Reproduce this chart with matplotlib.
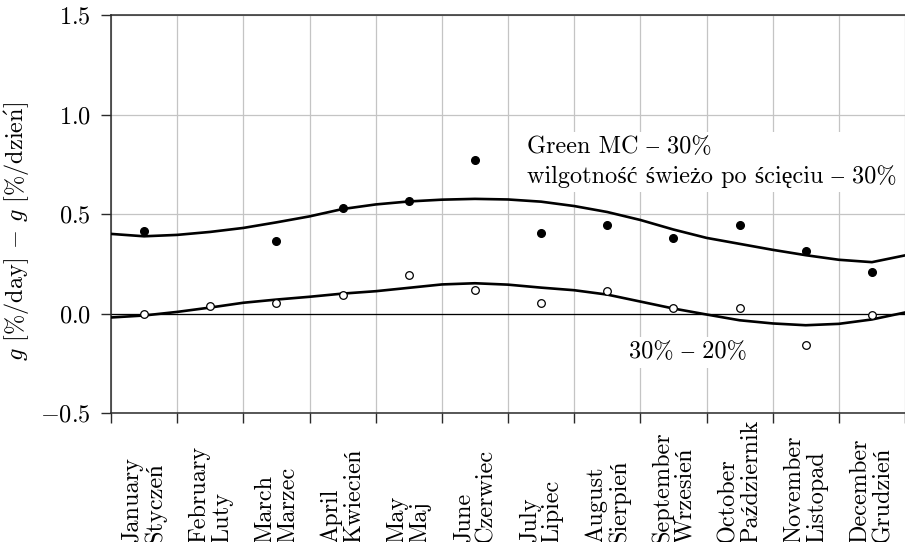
import matplotlib
matplotlib.use('Agg')
import matplotlib.pyplot as plt
import matplotlib.transforms as mtransforms
import numpy as np

plt.rcParams['font.family'] = ['cmr10', 'Liberation Serif']
plt.rcParams['mathtext.fontset'] = 'cm'
plt.rcParams['axes.formatter.use_mathtext'] = True
plt.rcParams['axes.unicode_minus'] = True

months_en = ['January', 'February', 'March', 'April', 'May', 'June', 'July',
             'August', 'September', 'October', 'November', 'December']
months_pl = ['Styczeń', 'Luty', 'Marzec', 'Kwiecień', 'Maj', 'Czerwiec', 'Lipiec',
             'Sierpień', 'Wrzesień', 'Październik', 'Listopad', 'Grudzień']

# measured monthly values (month centres)
green_pts = [0.417, np.nan, 0.362, 0.528, 0.563, 0.769, 0.407,
             0.444, 0.377, 0.447, 0.312, 0.211]
dry_pts = [-0.003, 0.040, 0.055, 0.095, 0.192, 0.119, 0.054,
           0.115, 0.030, 0.028, -0.157, -0.010]

# fitted curves, read every half month
curve_x = [0, 0.5, 1, 1.5, 2, 2.5, 3, 3.5, 4, 4.5, 5, 5.5, 6,
           6.5, 7, 7.5, 8, 8.5, 9, 9.5, 10, 10.5, 11, 11.5, 12]
green_curve = [0.400, 0.388, 0.395, 0.410, 0.430, 0.458, 0.488, 0.525, 0.548,
               0.563, 0.572, 0.576, 0.573, 0.562, 0.540, 0.510, 0.470, 0.422,
               0.380, 0.350, 0.320, 0.293, 0.270, 0.258, 0.292]
dry_curve = [-0.020, -0.010, 0.008, 0.030, 0.054, 0.070, 0.084, 0.100, 0.112,
             0.129, 0.146, 0.152, 0.145, 0.130, 0.117, 0.095, 0.060, 0.025,
             -0.005, -0.034, -0.050, -0.059, -0.052, -0.030, 0.005]

fig = plt.figure(figsize=(9.05, 5.42), dpi=100)
ax = fig.add_axes([111 / 905, 1 - 413 / 542, 1 - 111 / 905, (413 - 15) / 542])

mid = np.arange(12) + 0.5
ax.plot(curve_x, green_curve, color='black', lw=1.9, zorder=3)
ax.plot(curve_x, dry_curve, color='black', lw=1.9, zorder=3)
ax.plot(mid, green_pts, 'o', color='black', ms=5.5, zorder=4)
ax.plot(mid, dry_pts, 'o', mfc='white', mec='black', mew=0.9, ms=5.5, zorder=4)

ax.axhline(0, color='black', lw=0.9, zorder=2)

ax.set_xlim(0, 12)
ax.set_ylim(-0.5, 1.5)
ax.set_xticks(np.arange(13))
ax.set_xticklabels([])
ax.set_yticks([-0.5, 0.0, 0.5, 1.0, 1.5])
ax.grid(True, color='#c4c4c4', lw=0.9, zorder=0)
ax.set_axisbelow(True)

for s in ['left', 'bottom', 'top']:
    ax.spines[s].set_color('#2a2a2a')
    ax.spines[s].set_linewidth(1.1)
ax.spines['right'].set_visible(False)
ax.tick_params(axis='both', direction='out', length=7.5, width=1.0,
               color='#2a2a2a', labelsize=17.5, pad=7)

ax.set_ylabel(r'$g$ [%/day] $-$ $g$ [%/dzie$\mathrm{\acute{n}}$]', fontsize=17.5)
ax.yaxis.set_label_coords(-0.101, 0.457)

trans = mtransforms.blended_transform_factory(ax.transData, fig.transFigure)
for i in range(12):
    ax.text(mid[i], -0.002, months_en[i] + '\n' + months_pl[i], transform=trans,
            rotation=90, ha='center', va='bottom', multialignment='left',
            fontsize=17.5, linespacing=1.05, clip_on=False)

box = dict(facecolor='white', edgecolor='none', pad=3)
ax.text(6.28, 0.658, 'Green MC – 30%\nwilgotność świeżo po ścięciu – 30%',
        fontsize=17.5, ha='left', va='baseline', linespacing=1.35, bbox=box, zorder=5)
ax.text(7.83, -0.226, '30% – 20%', fontsize=17.5, ha='left', va='baseline',
        bbox=box, zorder=5)

fig.savefig('out.png', dpi=100)
